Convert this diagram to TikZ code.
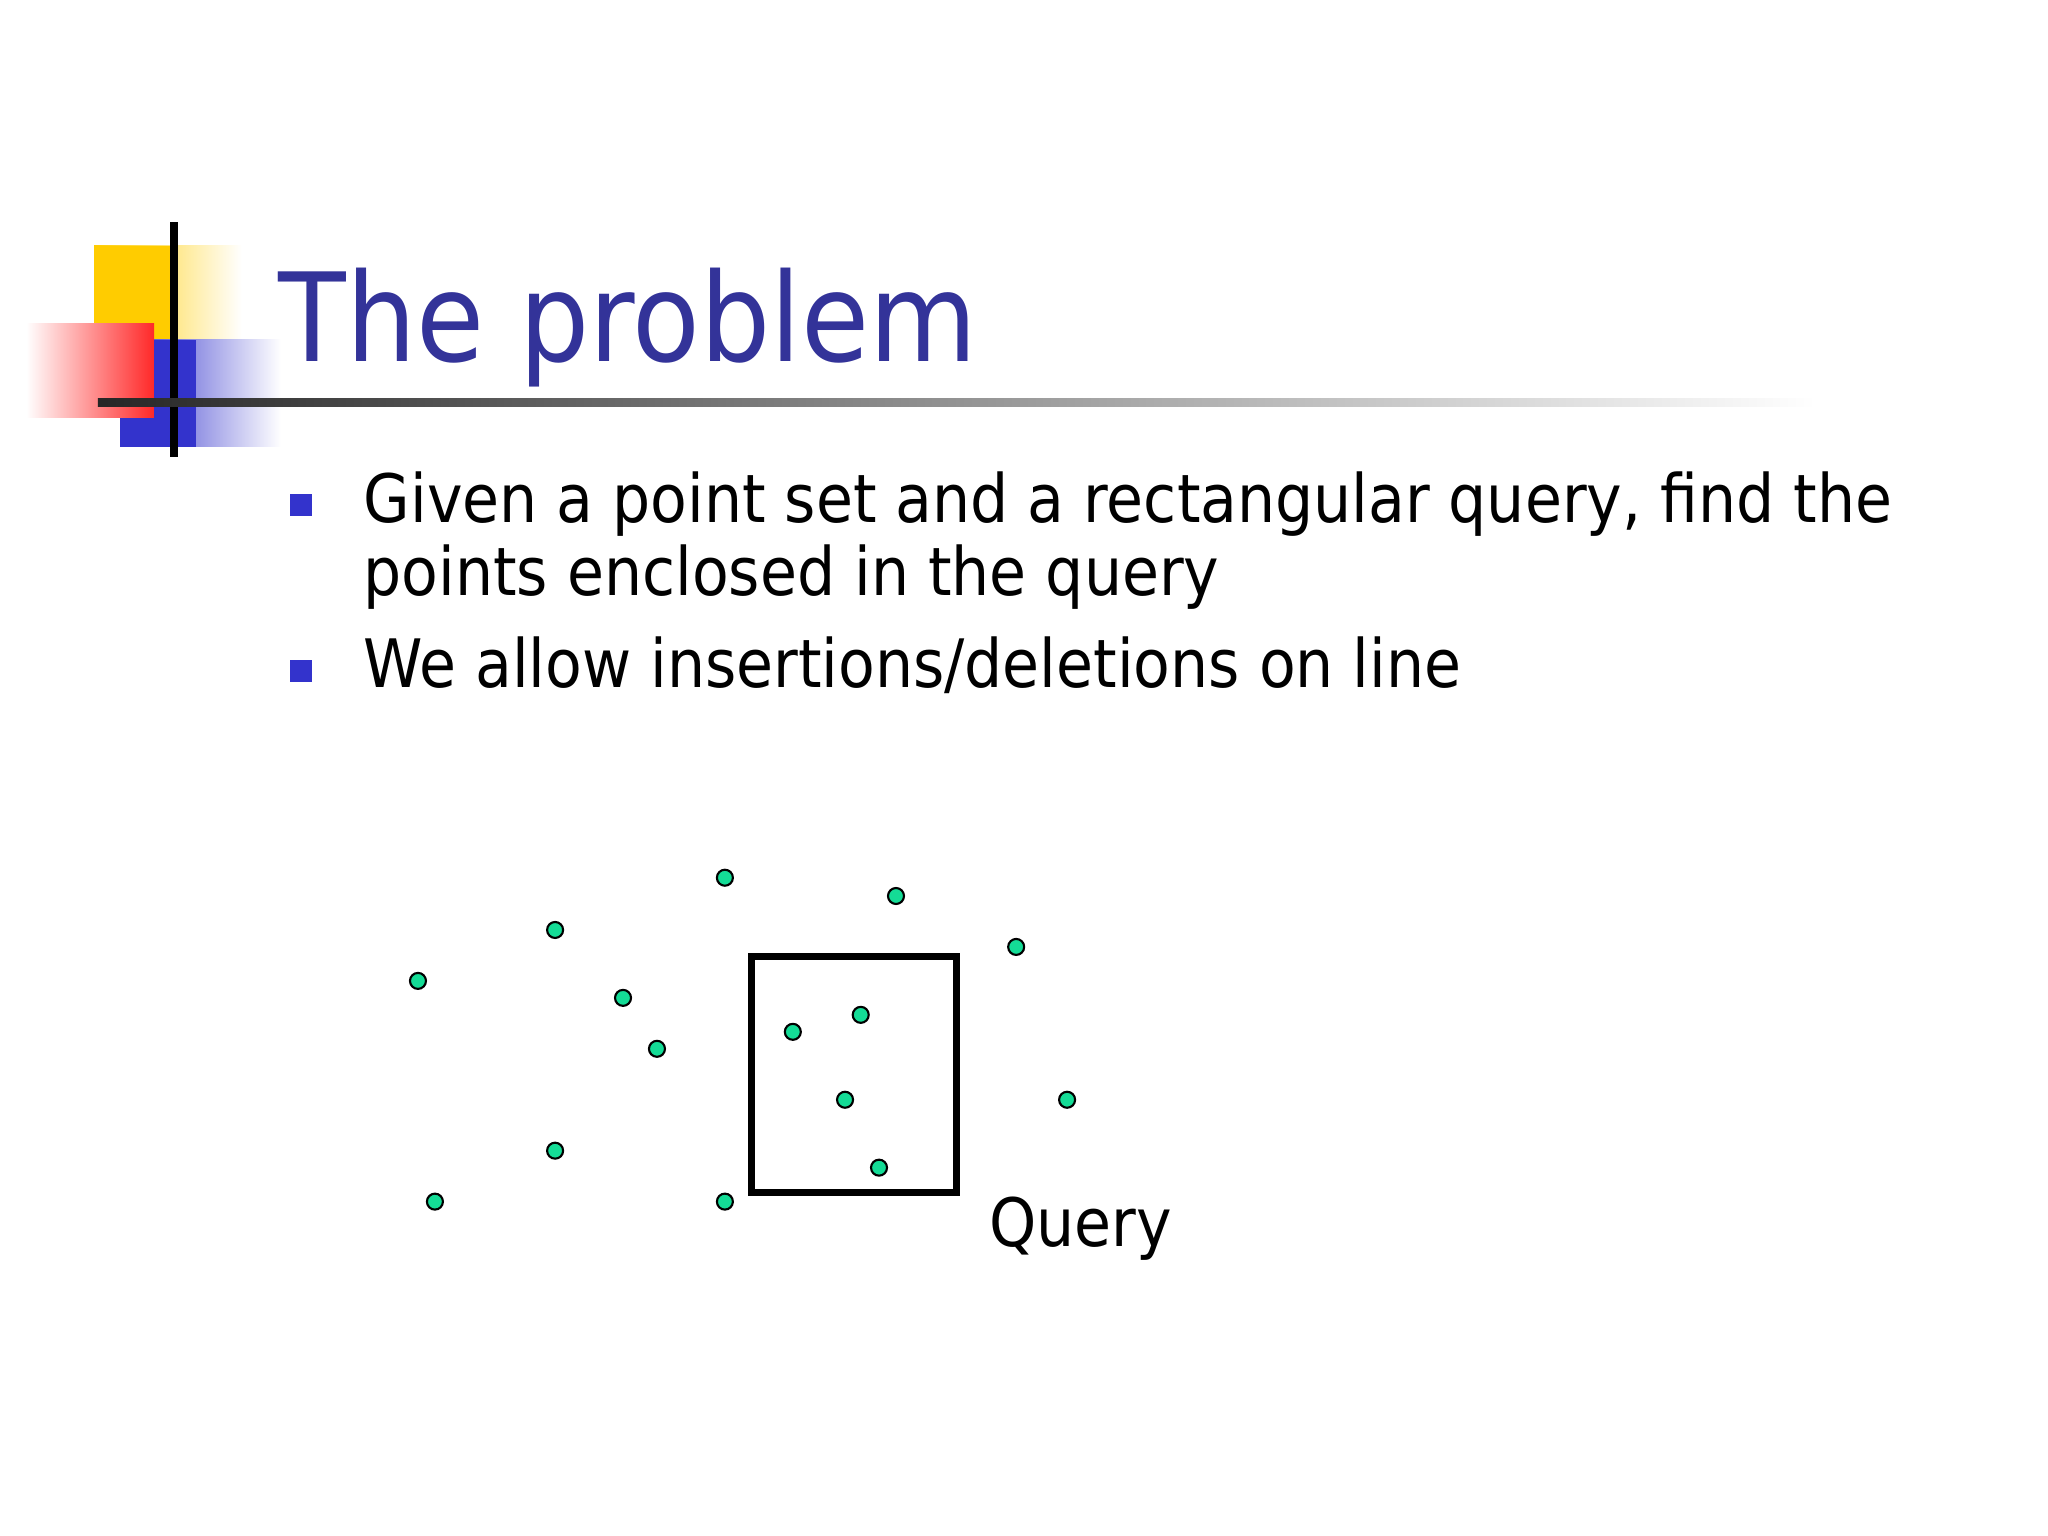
\documentclass[tikz,border=0pt]{standalone}
\usepackage{fontspec}
\setmainfont{DejaVu Sans Condensed}
\definecolor{ttl}{RGB}{51,51,153}
\definecolor{bul}{RGB}{51,51,204}
\definecolor{pt}{RGB}{20,220,150}
\definecolor{ylw}{RGB}{255,204,0}
\definecolor{rd}{RGB}{255,40,40}
\begin{document}
\begin{tikzpicture}[x=0.013061cm,y=-0.013061cm,
  dot/.style={circle,draw=black,fill=pt,line width=0.6pt,inner sep=0pt,minimum size=0.16cm},
  bulletsq/.style={fill=bul}]
\useasboundingbox (0,0) rectangle (1568,1176);
\fill[white] (0,0) rectangle (1568,1176);
% logo
\shade[left color=ylw,right color=white] (72,188) rectangle (185,260);
\fill[ylw] (72,188) rectangle (130,260);
\shade[left color=bul,right color=white] (92,260) rectangle (215,342);
\fill[bul] (92,260) rectangle (150,342);
\shade[left color=white,right color=rd] (20,248) rectangle (118,320);
\fill[bul] (118,260) rectangle (150,320);
\draw[line width=2.2pt] (133,170) -- (133,350);
\shade[left color=black!85,right color=white] (75,305) rectangle (1390,311);
% title
\node[anchor=base west,text=ttl,font=\fontsize{35}{42}\selectfont,inner sep=0pt] (title) at (213,277) {The problem};
% bullets
\fill[bulletsq] (222,378) rectangle (239,395);
\fill[bulletsq] (222,505) rectangle (239,522);
\node[anchor=base west,inner sep=0pt,font=\fontsize{19}{21}\selectfont] (b1) at (278,400) {Given a point set and a rectangular query, find the};
\node[anchor=base west,inner sep=0pt,font=\fontsize{19}{21}\selectfont] (b1b) at (278,456) {points enclosed in the query};
\node[anchor=base west,inner sep=0pt,font=\fontsize{19}{21}\selectfont] (b2) at (278,526) {We allow insertions/deletions on line};
% query box
\draw[line width=2pt] (575,732) rectangle (732,913);
\node[anchor=base west,inner sep=0pt,font=\fontsize{19}{21}\selectfont] (q) at (757,954) {Query};
% points
\foreach \x/\y [count=\i] in {555/672,686/686,425/712,778/725,320/751,477/764,659/777,607/790,503/803,647/842,817/842,425/881,673/894,333/920,555/920}
  \node[dot] (p\i) at (\x,\y) {};
\end{tikzpicture}
\end{document}
